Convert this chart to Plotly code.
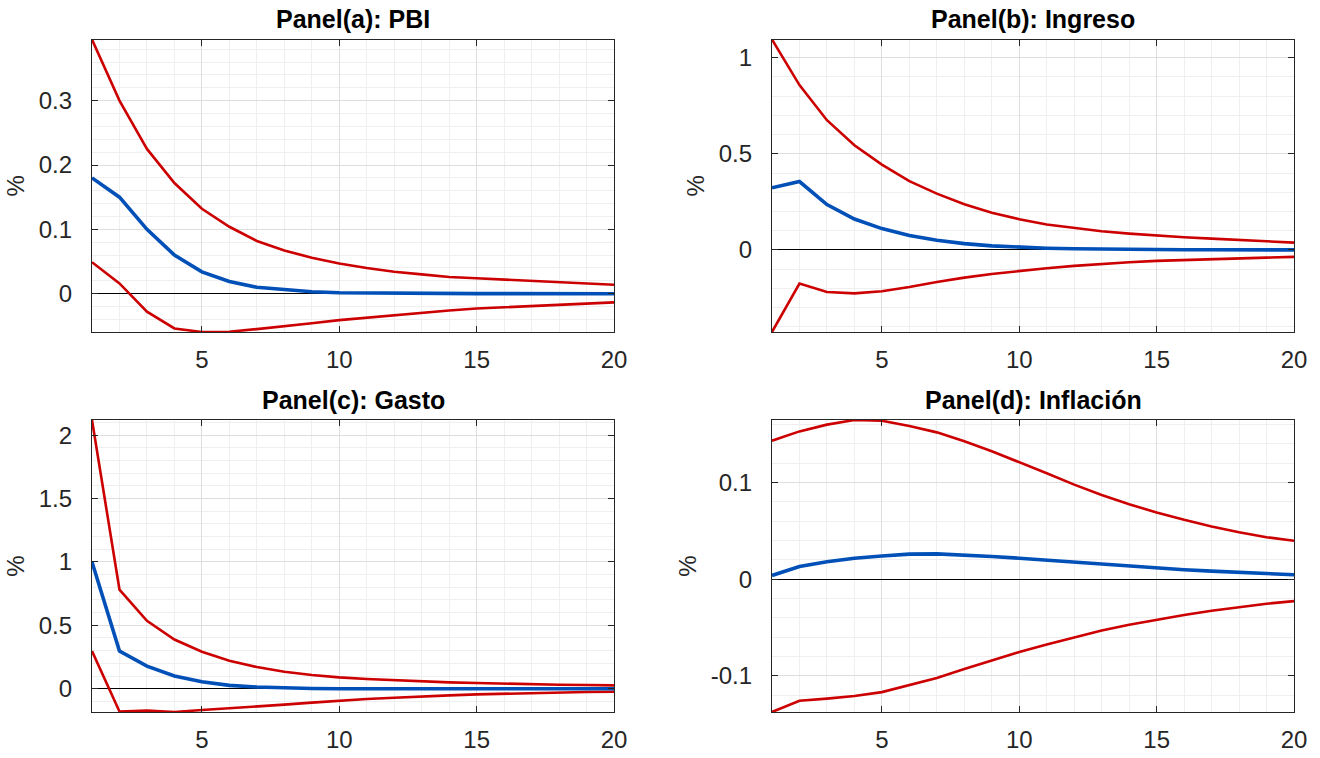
import plotly.graph_objects as go

periods = list(range(1, 21))

titles = ["Panel(a): PBI", "Panel(b): Ingreso", "Panel(c): Gasto", "Panel(d): Inflación"]

pbi_upper = [0.395, 0.300, 0.225, 0.172, 0.132, 0.104, 0.082, 0.067, 0.056, 0.047,
             0.040, 0.034, 0.030, 0.026, 0.024, 0.022, 0.020, 0.018, 0.016, 0.014]
pbi_mid = [0.180, 0.150, 0.100, 0.060, 0.034, 0.019, 0.010, 0.006, 0.003, 0.0015,
           0.001, 0.0006, 0.0004, 0.0003, 0.0002, 0.0001, 0.0001, 0.0, 0.0, 0.0]
pbi_lower = [0.049, 0.016, -0.028, -0.054, -0.0595, -0.059, -0.055, -0.051, -0.046, -0.041,
             -0.037, -0.033, -0.030, -0.026, -0.023, -0.021, -0.019, -0.017, -0.0155, -0.0135]

ing_upper = [1.095, 0.858, 0.675, 0.545, 0.444, 0.358, 0.293, 0.238, 0.194, 0.160,
             0.132, 0.113, 0.097, 0.085, 0.075, 0.066, 0.059, 0.052, 0.047, 0.038]
ing_mid = [0.323, 0.356, 0.236, 0.161, 0.111, 0.075, 0.050, 0.033, 0.021, 0.014,
           0.009, 0.006, 0.004, 0.003, 0.002, 0.001, 0.001, 0.0005, 0.0003, 0.0002]
ing_lower = [-0.427, -0.175, -0.219, -0.226, -0.215, -0.193, -0.167, -0.144, -0.125, -0.109,
             -0.095, -0.083, -0.073, -0.064, -0.057, -0.052, -0.047, -0.043, -0.040, -0.036]

gas_upper = [2.12, 0.782, 0.535, 0.388, 0.291, 0.220, 0.171, 0.134, 0.108, 0.089,
             0.076, 0.066, 0.058, 0.050, 0.045, 0.039, 0.034, 0.031, 0.029, 0.026]
gas_mid = [1.0, 0.297, 0.178, 0.100, 0.055, 0.026, 0.013, 0.005, 0.001, -0.001,
           -0.001, -0.001, -0.001, -0.001, -0.0008, -0.0006, -0.0005, -0.0004, -0.0003, -0.0002]
gas_lower = [0.297, -0.180, -0.173, -0.184, -0.168, -0.155, -0.142, -0.126, -0.110, -0.095,
             -0.081, -0.071, -0.060, -0.053, -0.045, -0.039, -0.034, -0.029, -0.026, -0.024]

inf_upper = [0.1434, 0.153, 0.160, 0.1648, 0.1640, 0.1586, 0.152, 0.1428, 0.1324, 0.1214,
             0.1097, 0.0979, 0.0872, 0.0776, 0.069, 0.0614, 0.0545, 0.0486, 0.0434, 0.0397]
inf_mid = [0.0038, 0.013, 0.018, 0.0217, 0.024, 0.0259, 0.0262, 0.0252, 0.0234, 0.0217,
           0.0197, 0.0172, 0.0152, 0.0131, 0.0114, 0.0097, 0.0083, 0.0069, 0.0059, 0.0045]
inf_lower = [-0.1376, -0.126, -0.1238, -0.121, -0.117, -0.110, -0.1024, -0.0931, -0.0841, -0.0755,
             -0.0676, -0.060, -0.0531, -0.0472, -0.0421, -0.0372, -0.0328, -0.029, -0.0255, -0.0228]

panels = [
    (pbi_upper, pbi_mid, pbi_lower, [0, 0.1, 0.2, 0.3], ["0", "0.1", "0.2", "0.3"], 0.02),
    (ing_upper, ing_mid, ing_lower, [0, 0.5, 1], ["0", "0.5", "1"], 0.1),
    (gas_upper, gas_mid, gas_lower, [0, 0.5, 1, 1.5, 2], ["0", "0.5", "1", "1.5", "2"], 0.1),
    (inf_upper, inf_mid, inf_lower, [-0.1, 0, 0.1], ["-0.1", "0", "0.1"], 0.02),
]

xdomains = [[92 / 1320, 614 / 1320], [772 / 1320, 1294 / 1320]]
ydomains = [[1 - 332 / 758, 1 - 39.5 / 758], [1 - 712 / 758, 1 - 420 / 758]]

RED = "#CC0000"
BLUE = "#0050B8"
AXC = "#262626"
FONT = "Liberation Sans, Arial, sans-serif"

fig = go.Figure()
layout = dict(
    width=1320, height=758,
    margin=dict(l=0, r=0, t=0, b=0, autoexpand=False),
    paper_bgcolor="white", plot_bgcolor="white",
    showlegend=False,
    font=dict(family=FONT, color=AXC, size=23),
    annotations=[],
)

for i, (up, mid, lo, tv, tt, minor_step) in enumerate(panels):
    r, c = divmod(i, 2)
    n = i + 1
    xa = "x" if n == 1 else f"x{n}"
    ya = "y" if n == 1 else f"y{n}"
    for series, color, w in [(up, RED, 2.6), (lo, RED, 2.6), (mid, BLUE, 3.6)]:
        fig.add_trace(go.Scatter(x=periods, y=series, mode="lines",
                                 line=dict(color=color, width=w),
                                 xaxis=xa, yaxis=ya, hoverinfo="skip"))
    allv = up + mid + lo
    ymin, ymax = min(allv), max(allv)
    xkey = "xaxis" if n == 1 else f"xaxis{n}"
    ykey = "yaxis" if n == 1 else f"yaxis{n}"
    layout[xkey] = dict(
        domain=xdomains[c], anchor=ya, range=[1, 20], automargin=False,
        tickvals=[5, 10, 15, 20], ticktext=["5", "10", "15", "20"],
        ticks="inside", ticklen=6, tickwidth=1.2, tickcolor=AXC,
        showline=True, linecolor=AXC, linewidth=1.3, mirror="ticks",
        showgrid=True, gridcolor="#DEDEDE", gridwidth=1,
        minor=dict(dtick=1, tick0=0, showgrid=True, gridcolor="#EFEFEF", gridwidth=1, ticks=""),
        zeroline=False, ticklabelstandoff=6,
        tickfont=dict(size=24, color=AXC, family=FONT),
    )
    layout[ykey] = dict(
        domain=ydomains[r], anchor=xa, range=[ymin, ymax], automargin=False,
        tickvals=tv, ticktext=tt,
        ticks="inside", ticklen=6, tickwidth=1.2, tickcolor=AXC,
        showline=True, linecolor=AXC, linewidth=1.3, mirror="ticks",
        showgrid=True, gridcolor="#DEDEDE", gridwidth=1,
        minor=dict(dtick=minor_step, tick0=0, showgrid=True, gridcolor="#EFEFEF", gridwidth=1, ticks=""),
        zeroline=True, zerolinecolor="#000000", zerolinewidth=1,
        ticklabelstandoff=14,
        tickfont=dict(size=24, color=AXC, family=FONT),
        title=dict(text="%", font=dict(size=24, color=AXC, family=FONT), standoff=7),
    )
    xd = xdomains[c]
    yd = ydomains[r]
    layout["annotations"].append(dict(
        text="<b>" + titles[i] + "</b>", x=(xd[0] + xd[1]) / 2, y=yd[1],
        xref="paper", yref="paper", xanchor="center", yanchor="bottom",
        yshift=4, showarrow=False, font=dict(size=25, color="#000000", family=FONT),
    ))

fig.update_layout(**layout)
fig.write_html(
    "out.html",
    config={"displayModeBar": False},
    post_script="document.body.style.margin='0';document.body.style.overflow='hidden';",
)
